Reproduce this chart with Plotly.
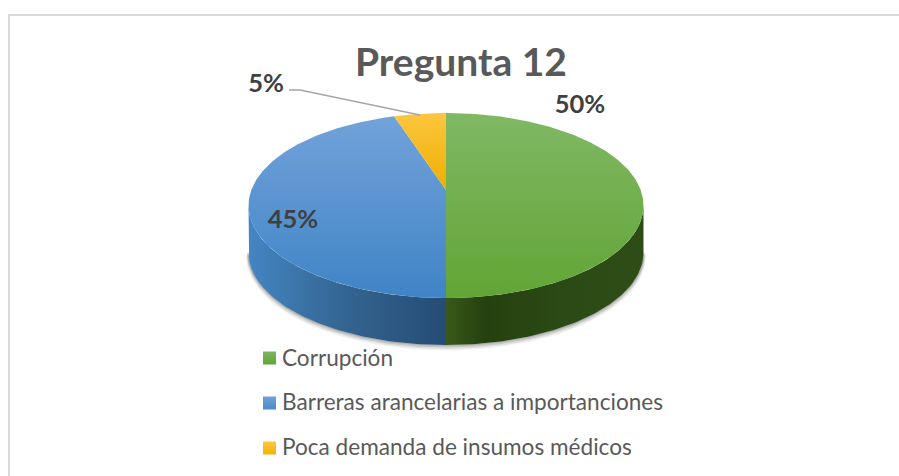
import numpy as np
import plotly.graph_objects as go

categories = ['Corrupción', 'Barreras arancelarias a importanciones', 'Poca demanda de insumos médicos']
values = [50, 45, 5]
percent_labels = ['50%', '45%', '5%']

top_colors = [
    [[0, '#62a535'], [1, '#80b864']],
    [[0, '#3f84c6'], [1, '#72a2da']],
    [[0, '#edaf00'], [1, '#fdc63f']],
]
wall_colors = [
    [[0, '#38591a'], [0.2, '#25410f'], [0.6, '#2b4a15'], [1, '#2d4c16']],
    [[0, '#4485c3'], [0.5, '#33648f'], [1, '#254c75']],
]
swatch_tops = ['#7cb660', '#72a2da', '#fdc63f']
swatch_bottoms = ['#62a535', '#4a8ac9', '#f0b400']

W, H = 899, 476
# pie projection, the far edge of the disc is pulled in by the perspective
CX, CY = 446, 190
RX, RY = 194.7, 89.9
PERSP = 0.1676
DEPTH = 47


def project(theta):
    sin_t, cos_t = np.sin(theta), np.cos(theta)
    w = 1 + PERSP * cos_t
    return CX + RX * sin_t / w, CY - RY * cos_t / w


def slice_angles():
    edges = np.cumsum([0] + values) / sum(values) * 2 * np.pi
    return list(zip(edges[:-1], edges[1:]))


fig = go.Figure()
angles = slice_angles()

# walls first, only the part of each slice facing the viewer
for i, (start, end) in enumerate(angles[:2]):
    lo, hi = (np.pi * 0.5 + 0.17, np.pi) if i == 0 else (np.pi, np.pi * 1.5 - 0.17)
    t = np.linspace(lo, hi, 90)
    x, y = project(t)
    # soft shadow under the wall
    for grow, alpha in [(4, 0.07), (3, 0.1), (2, 0.14), (1, 0.2)]:
        fig.add_trace(go.Scatter(
            x=x, y=y + DEPTH + grow - 1, mode='lines',
            line=dict(color=f'rgba(60,60,60,{alpha})', width=grow + 1),
            hoverinfo='skip', showlegend=False,
        ))
    wall_x = np.concatenate([x, x[::-1]])
    wall_y = np.concatenate([y, y[::-1] + DEPTH])
    fig.add_trace(go.Scatter(
        x=wall_x, y=wall_y, mode='lines', fill='toself', line=dict(width=0),
        fillgradient=dict(type='horizontal', colorscale=wall_colors[i]),
        hoverinfo='skip', showlegend=False,
    ))

# top face of the pie
for i, (start, end) in enumerate(angles):
    t = np.linspace(start, end, 200)
    x, y = project(t)
    fig.add_trace(go.Scatter(
        x=np.concatenate([[CX], x, [CX]]),
        y=np.concatenate([[CY], y, [CY]]),
        mode='lines', fill='toself', line=dict(width=0),
        fillgradient=dict(type='vertical', colorscale=top_colors[i]),
        name=categories[i], hoverinfo='name', showlegend=False,
    ))

# legend, built by hand since the swatch sits closer to the text than plotly's legend allows
fig.add_trace(go.Scatter(
    x=[269.5] * 3, y=[358, 403, 448], mode='markers',
    marker=dict(symbol='square', size=13, color=swatch_tops, line=dict(width=0),
                gradient=dict(type='vertical', color=swatch_bottoms)),
    hoverinfo='skip', showlegend=False,
))
fig.add_trace(go.Scatter(
    x=[282] * 3, y=[360, 404, 449], mode='text',
    text=categories, textposition='middle right',
    textfont=dict(family='Lato', size=22.6, color='#595959'),
    hoverinfo='skip', showlegend=False,
))

# data labels
fig.add_trace(go.Scatter(
    x=[580, 293, 266], y=[107, 222, 86], mode='text',
    text=percent_labels,
    textfont=dict(family='Lato', size=25.5, color='#404040', weight='bold'),
    hoverinfo='skip', showlegend=False,
))

fig.add_shape(type='path', path='M 289 90 L 300 90 L 420 115', line=dict(color='#a6a6a6', width=1.5))
# frame around the chart area
fig.add_shape(type='path', path=f'M {W} 15 L 9 15 L 9 {H}', line=dict(color='#d9d9d9', width=2))

fig.update_layout(
    width=W, height=H,
    margin=dict(l=0, r=0, t=0, b=0),
    paper_bgcolor='white', plot_bgcolor='white',
    title=dict(
        text='Pregunta 12', x=461 / W, y=1 - 62 / H, xanchor='center', yanchor='middle',
        font=dict(family='Lato', size=39, color='#595959', weight='bold'),
    ),
    xaxis=dict(range=[0, W], visible=False, fixedrange=True),
    yaxis=dict(range=[H, 0], visible=False, fixedrange=True),
    showlegend=False,
)

# the page's default body margin would push the chart 8px in
fig.write_html("out.html", config=dict(displayModeBar=False),
               post_script="document.body.style.margin='0';document.body.style.overflow='hidden';")
